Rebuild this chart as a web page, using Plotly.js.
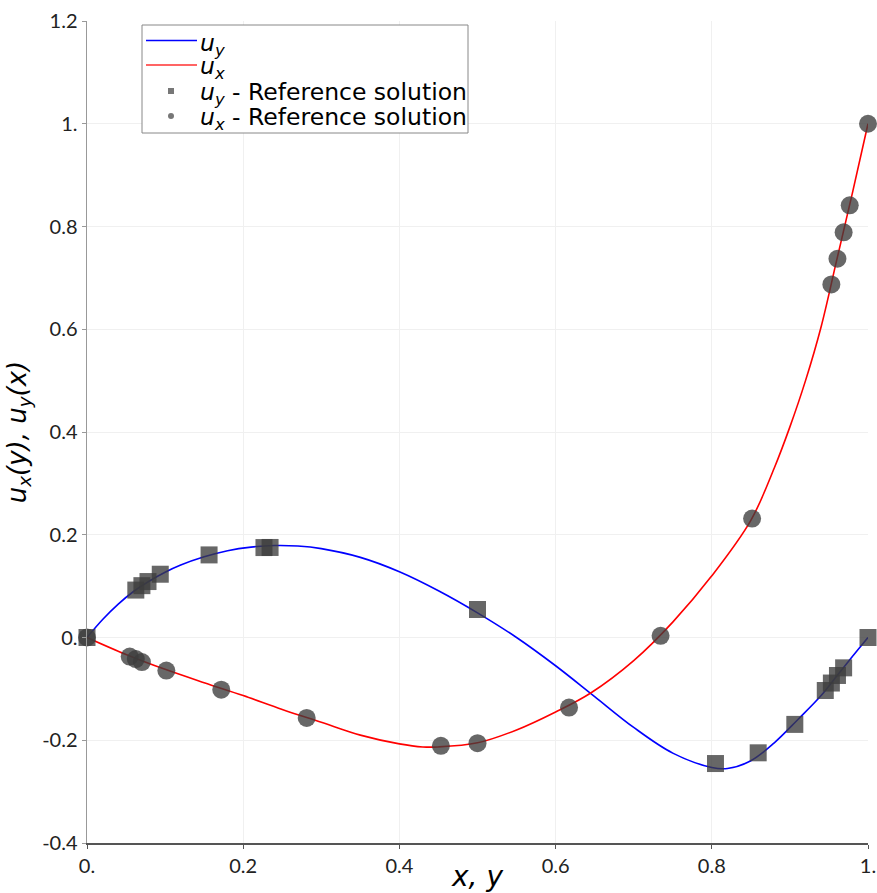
<!DOCTYPE html>
<html>
<head>
<meta charset="utf-8">
<script src="https://cdn.plot.ly/plotly-3.0.1.min.js"></script>
<style>html,body{margin:0;padding:0;background:#fff;}#chart{width:877px;height:893px;}</style>
</head>
<body>
<div id="chart"></div>
<script>
// Simulated solution: u_y along horizontal centreline (vs x)
const uyX = [0, 0.02, 0.04, 0.06, 0.08, 0.10, 0.12, 0.15, 0.18, 0.21, 0.24, 0.27, 0.30, 0.35, 0.40, 0.45, 0.50, 0.55, 0.60, 0.65, 0.70, 0.75, 0.80, 0.82, 0.85, 0.88, 0.91, 0.94, 0.96, 0.98, 1.0];
const uyV = [0, 0.035, 0.065, 0.090, 0.110, 0.127, 0.141, 0.157, 0.169, 0.176, 0.179, 0.178, 0.173, 0.156, 0.128, 0.091, 0.048, 0.000, -0.055, -0.115, -0.175, -0.225, -0.253, -0.255, -0.240, -0.205, -0.160, -0.113, -0.075, -0.037, 0];
// Simulated solution: u_x along vertical centreline (vs y)
const uxY = [0, 0.05, 0.10, 0.15, 0.20, 0.25, 0.30, 0.35, 0.40, 0.43, 0.45, 0.50, 0.55, 0.60, 0.645, 0.70, 0.75, 0.80, 0.85, 0.88, 0.90, 0.92, 0.94, 0.96, 0.98, 1.0];
const uxV = [0, -0.033, -0.062, -0.088, -0.113, -0.140, -0.165, -0.190, -0.207, -0.213, -0.213, -0.205, -0.180, -0.145, -0.108, -0.045, 0.030, 0.120, 0.228, 0.330, 0.410, 0.500, 0.605, 0.735, 0.865, 1.0];
// Reference solution (Ghia et al.)
const refUyX = [0, 0.0625, 0.0703, 0.0781, 0.0938, 0.1563, 0.2266, 0.2344, 0.5, 0.8047, 0.8594, 0.9063, 0.9453, 0.9531, 0.9609, 0.9688, 1.0];
const refUyV = [0, 0.09233, 0.10091, 0.10890, 0.12317, 0.16077, 0.17507, 0.17527, 0.05454, -0.24533, -0.22445, -0.16914, -0.10313, -0.08864, -0.07391, -0.05906, 0];
const refUxY = [0, 0.0547, 0.0625, 0.0703, 0.1016, 0.1719, 0.2813, 0.4531, 0.5, 0.6172, 0.7344, 0.8516, 0.9531, 0.9609, 0.9688, 0.9766, 1.0];
const refUxV = [0, -0.03717, -0.04192, -0.04775, -0.06434, -0.10150, -0.15662, -0.21090, -0.20581, -0.13641, 0.00332, 0.23151, 0.68717, 0.73722, 0.78871, 0.84123, 1.0];
const xTicks = [0, 0.2, 0.4, 0.6, 0.8, 1.0];
const xTickText = ['0.', '0.2', '0.4', '0.6', '0.8', '1.'];
const yTicks = [-0.4, -0.2, 0, 0.2, 0.4, 0.6, 0.8, 1.0, 1.2];
const yTickText = ['-0.4', '-0.2', '0.', '0.2', '0.4', '0.6', '0.8', '1.', '1.2'];
const legendLabels = ['<i>u<sub>y</sub></i>', '<i>u<sub>x</sub></i>', '<i>u<sub>y</sub></i> - Reference solution', '<i>u<sub>x</sub></i> - Reference solution'];

const W = 877, H = 893, ML = 87, MR = 9, MT = 21, MB = 50;
const PW = W - ML - MR, PH = H - MT - MB;
const px = v => (v - ML) / PW;
const py = v => 1 - (v - MT) / PH;

const markColor = 'rgba(60,60,60,0.78)';
const traces = [
  {x: uyX, y: uyV, mode: 'lines', line: {color: '#0000ff', width: 1.6, shape: 'spline'}},
  {x: uxY, y: uxV, mode: 'lines', line: {color: '#ff0000', width: 1.6, shape: 'spline'}},
  {x: refUyX, y: refUyV, mode: 'markers', marker: {symbol: 'square', size: 17, color: markColor}, cliponaxis: false},
  {x: refUxY, y: refUxV, mode: 'markers', marker: {symbol: 'circle', size: 18, color: markColor}, cliponaxis: false}
];

// Legend drawn as shapes + annotations (paper coordinates)
const rowY = [44, 68, 93, 118];
const shapes = [
  {type: 'rect', xref: 'paper', yref: 'paper', x0: px(142), x1: px(468), y0: py(25), y1: py(133), line: {color: '#888', width: 1}, fillcolor: '#fff', layer: 'above'},
  {type: 'line', xref: 'paper', yref: 'paper', x0: px(146), x1: px(197), y0: py(40.5), y1: py(40.5), line: {color: '#0000ff', width: 1.6}, layer: 'above'},
  {type: 'line', xref: 'paper', yref: 'paper', x0: px(146), x1: px(197), y0: py(65), y1: py(65), line: {color: '#ff3030', width: 1.6}, layer: 'above'},
  {type: 'rect', xref: 'paper', yref: 'paper', x0: px(168), x1: px(174), y0: py(88), y1: py(94), line: {width: 0}, fillcolor: '#777', layer: 'above'},
  {type: 'circle', xref: 'paper', yref: 'paper', x0: px(168), x1: px(174), y0: py(113), y1: py(119), line: {width: 0}, fillcolor: '#777', layer: 'above'}
];
const annotations = legendLabels.map((t, i) => ({
  text: t, xref: 'paper', yref: 'paper', x: px(199), y: py(rowY[i]), xanchor: 'left', yanchor: 'middle',
  showarrow: false, font: {size: 23.5, family: 'DejaVu Sans', color: '#000'}, borderpad: 0
}));

const layout = {
  width: W, height: H,
  margin: {l: ML, r: MR, t: MT, b: MB},
  paper_bgcolor: '#fff', plot_bgcolor: '#fff',
  font: {family: 'DejaVu Sans, sans-serif', color: '#000'},
  showlegend: false,
  shapes: shapes, annotations: annotations,
  xaxis: {range: [0, 1], tickvals: xTicks, ticktext: xTickText, showgrid: true, gridcolor: '#f0f0f0', zeroline: false,
          showline: true, linecolor: '#555', linewidth: 1.5, ticks: 'outside', ticklen: 4, tickcolor: '#555',
          tickfont: {size: 20, family: 'Lato, sans-serif', color: '#222'},
          title: {text: '<i>x, y</i>', font: {size: 28, family: 'DejaVu Sans'}, standoff: 2}},
  yaxis: {range: [-0.4, 1.2], tickvals: yTicks, ticktext: yTickText, showgrid: true, gridcolor: '#f0f0f0', zeroline: false,
          showline: true, linecolor: '#999', linewidth: 1.5, ticks: 'outside', ticklen: 4, tickcolor: '#999',
          tickfont: {size: 20, family: 'Lato, sans-serif', color: '#222'},
          title: {text: '<i>u<sub>x</sub>(y), u<sub>y</sub>(x)</i>', font: {size: 26, family: 'DejaVu Sans'}, standoff: 8}}
};
Plotly.newPlot('chart', traces, layout, {displayModeBar: false, staticPlot: true});
</script>
</body>
</html>
